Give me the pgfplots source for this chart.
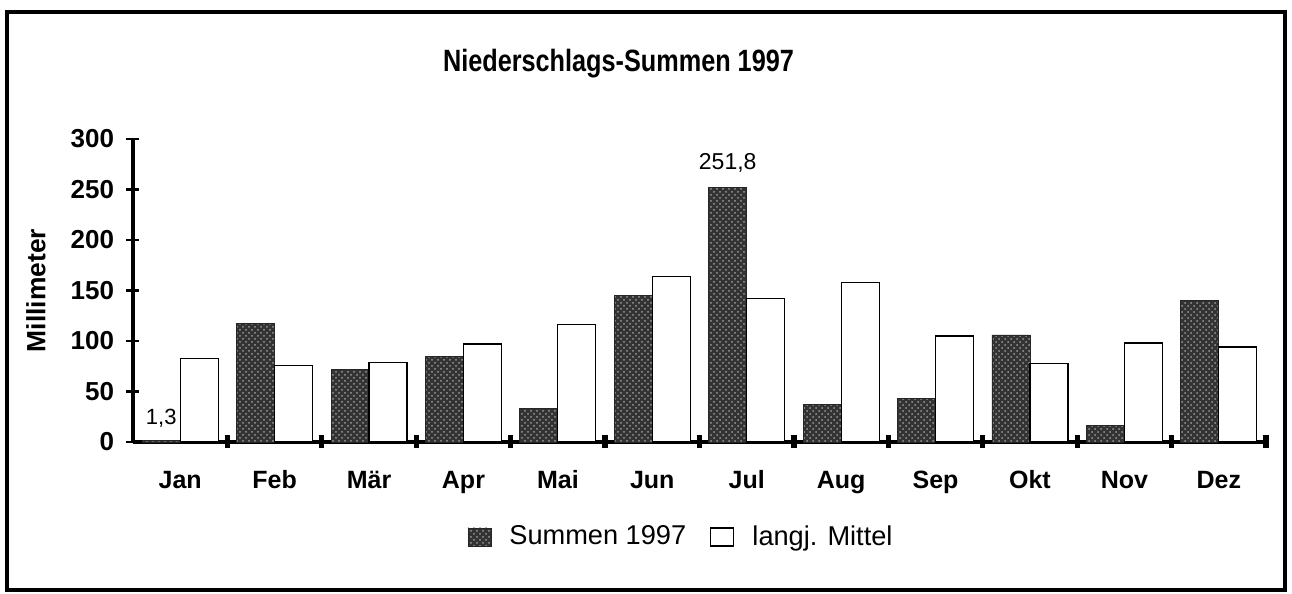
\documentclass[border=0pt]{standalone}
\usepackage{fontspec}
\setmainfont{Liberation Sans}
\usepackage{pgfplots}
\pgfplotsset{compat=1.18}
\usetikzlibrary{patterns}
\begin{document}
\begin{tikzpicture}
\path[use as bounding box] (-66.5pt,-76pt) rectangle (579.5pt,221pt);
\begin{axis}[
 at={(0,0)}, anchor=south west,
 scale only axis, width=566.5pt, height=151.5pt,
 xmin=0, xmax=12, ymin=0, ymax=300,
 clip=false,
 axis x line=bottom, axis y line=left,
 axis line style={-, line width=2pt},
 ybar=0pt, bar width=19pt,
 major tick length=6.5pt,
 xtick={1,...,12},
 xticklabels={},
 x tick style={line width=2.6pt, black},
 extra x ticks={0.5,1.5,...,11.5},
 extra x tick labels={Jan,Feb,Mär,Apr,Mai,Jun,Jul,Aug,Sep,Okt,Nov,Dez},
 extra x tick style={tick style={draw=none},
   xticklabel style={font=\bfseries\fontsize{12.5}{14}\selectfont, inner sep=0pt, anchor=base, yshift=-20pt}},
 tick align=center,
 ytick={0,50,...,300},
 y tick style={line width=1.3pt, black},
 /pgf/number format/assume math mode=true,
 yticklabel style={font=\bfseries\fontsize{13}{15}\selectfont, inner sep=0pt, xshift=-6pt},
 ylabel={Millimeter},
 ylabel style={font=\bfseries\fontsize{13.2}{15}\selectfont, at={(axis description cs:-0.0856,0.5)}, anchor=center},
 legend style={at={(axis description cs:0.4846,0)}, anchor=center, yshift=-47.5pt, draw=none,
   font=\fontsize{13.6}{15}\selectfont,
   /tikz/every odd column/.append style={column sep=7pt},
   /tikz/every even column/.append style={column sep=10pt}},
 legend columns=-1,
 legend image code/.code={\draw[#1] (0pt,-4.5pt) rectangle (11.5pt,4.5pt);},
]
\addplot[fill=black!80, draw=black!85, line width=0.4pt,
  postaction={pattern=crosshatch dots, pattern color=black!40}]
 coordinates {(0.5,1.3) (1.5,117.5) (2.5,72) (3.5,85) (4.5,33) (5.5,145) (6.5,251.8) (7.5,37.5) (8.5,43) (9.5,106) (10.5,16) (11.5,140)};
\addplot[fill=white, draw=black, line width=0.6pt]
 coordinates {(0.5,83) (1.5,76) (2.5,79) (3.5,97) (4.5,116) (5.5,164) (6.5,142) (7.5,158) (8.5,105) (9.5,78) (10.5,98) (11.5,94)};
\legend{Summen 1997, langj. Mittel}
\node[anchor=south, xshift=-9.5pt, yshift=3pt, font=\fontsize{11}{13}\selectfont] at (axis cs:0.5,1.3) {1,3};
\node[anchor=south, xshift=-9.5pt, yshift=4pt, font=\fontsize{11.5}{13}\selectfont] at (axis cs:6.5,251.8) {251,8};
\end{axis}
\node[font=\bfseries\fontsize{15.4}{17}\selectfont, xscale=0.82] at (242.75pt,189pt) {Niederschlags-Summen 1997};
\draw[line width=2.2pt] (-63pt,-74pt) rectangle (576pt,215pt);
\end{tikzpicture}
\end{document}
